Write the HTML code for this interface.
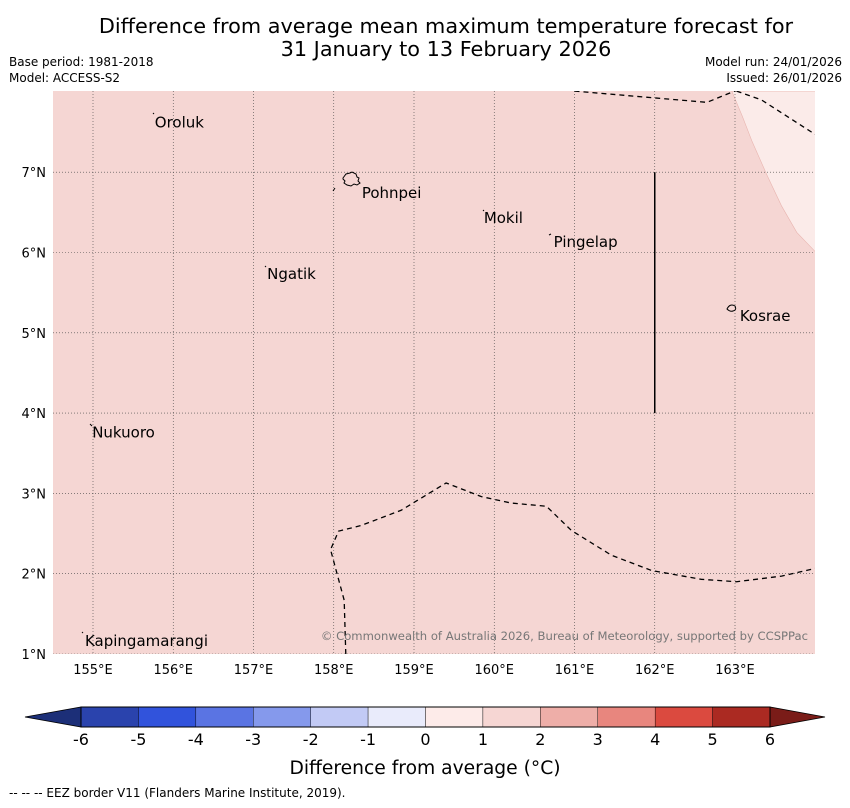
<!DOCTYPE html>
<html><head><meta charset="utf-8"><style>
body{margin:0;background:#fff;font-family:"DejaVu Sans","Liberation Sans",sans-serif;}
svg text{font-family:"DejaVu Sans","Liberation Sans",sans-serif;}
</style></head><body>
<svg width="850" height="804" xmlns="http://www.w3.org/2000/svg" id="chart">
<text x="446" y="33" font-size="20.8" text-anchor="middle">Difference from average mean maximum temperature forecast for</text>
<text x="446" y="56" font-size="20.8" text-anchor="middle">31 January to 13 February 2026</text>
<text x="9" y="66" font-size="12">Base period: 1981-2018</text>
<text x="9" y="82" font-size="12">Model: ACCESS-S2</text>
<text x="842" y="66" font-size="12" text-anchor="end">Model run: 24/01/2026</text>
<text x="842" y="82" font-size="12" text-anchor="end">Issued: 26/01/2026</text>
<g id="map"></g>
<g id="cbar"></g>
<text x="425" y="774" font-size="18.7" text-anchor="middle">Difference from average (°C)</text>
<text x="9" y="797" font-size="12">--  --  -- EEZ border V11 (Flanders Marine Institute, 2019).</text>
</svg>
<script>
const lonTicks=[155,156,157,158,159,160,161,162,163];
const latTicks=[1,2,3,4,5,6,7];
const places=[["Oroluk",155.77,7.62],["Pohnpei",158.35,6.74],["Mokil",159.87,6.43],["Pingelap",160.74,6.13],["Ngatik",157.17,5.73],["Kosrae",163.06,5.21],["Nukuoro",154.99,3.76],["Kapingamarangi",154.9,1.16]];
const eezTop=[[161,8.01],[162.65,7.87],[163.02,8.02]];
const eezRight=[[163.02,8.01],[163.33,7.9],[164,7.47]];
const eezBottom=[[158.15,1],[158.13,1.67],[157.96,2.3],[158.06,2.53],[158.34,2.6],[158.84,2.79],[159.4,3.13],[159.84,2.96],[160.21,2.88],[160.65,2.84],[160.96,2.54],[161.46,2.23],[161.96,2.04],[162.58,1.93],[163.02,1.9],[163.58,1.97],[164.02,2.07]];
const lightRegion=[[162.96,8.01],[163.09,7.7],[163.21,7.39],[163.4,6.96],[163.58,6.58],[163.77,6.25],[164.02,5.99],[164.02,8.01]];
const cbLevels=[-6,-5,-4,-3,-2,-1,0,1,2,3,4,5,6];
const cbColors=["#2a43ad","#3153dc","#5a74e3","#8599ec","#c2caf5","#e9ebfb","#fdebe9","#f6d6d3","#eeaea8","#e8867e","#db4a3f","#ab2a22"];
const ns="http://www.w3.org/2000/svg";
const X0=53,X1=815,Y0=91,Y1=654;
const xs=l=>93+(l-155)*80.25, ys=a=>654-(a-1)*80.3;
function el(t,a,p){const e=document.createElementNS(ns,t);for(const k in a)e.setAttribute(k,a[k]);p.appendChild(e);return e;}
const map=document.getElementById('map');
const cp=el('clipPath',{id:'clip'},map);el('rect',{x:X0,y:Y0,width:X1-X0,height:Y1-Y0},cp);
const bg=el('rect',{x:X0,y:Y0,width:X1-X0,height:Y1-Y0,fill:'#f5d6d3'},map);


const g=el('g',{'clip-path':'url(#clip)'},map);
const lr=el('polygon',{points:lightRegion.map(p=>xs(p[0])+','+ys(p[1])).join(' '),fill:'#fbebe9',stroke:'#e8b5b0','stroke-width':0.6},g);


lonTicks.forEach(l=>{const x=xs(l);
 const gl=el('line',{x1:x,x2:x,y1:Y0,y2:Y1,stroke:'#444','stroke-width':0.6,'stroke-dasharray':'1,2'},g);
 
 
 const t=el('text',{x:x,y:674,'font-size':13,'text-anchor':'middle'},map);t.textContent=l+'°E';
 
 });
latTicks.forEach(a=>{const y=ys(a);
 const gl=el('line',{x1:X0,x2:X1,y1:y,y2:y,stroke:'#444','stroke-width':0.6,'stroke-dasharray':'1,2'},g);
 
 
 const t=el('text',{x:46,y:y+5,'font-size':13,'text-anchor':'end'},map);t.textContent=a+'°N';
 
 });
[eezTop,eezRight,eezBottom].forEach(pts=>{const p=el('polyline',{points:pts.map(p=>xs(p[0])+','+ys(p[1])).join(' '),fill:'none',stroke:'#000','stroke-width':1.3,'stroke-dasharray':'5,4'},g);
 
 });
const vl=el('line',{x1:xs(162),x2:xs(162),y1:ys(7),y2:ys(4),stroke:'#000','stroke-width':1.5},g);


const isl=el('path',{d:'M343,178 l3,-4 l4,-1 l2,-1 l4,2 l1,3 l2,1 l-1,3 l2,2 l-3,2 l-3,-1 l-3,2 l-4,-1 l-3,-2 l1,-2 l-2,-2z M333,191 l2,-3 M727,309 q3,-6 8,-3 q2,4 -2,5 q-3,1 -6,-2z M153,113 l1,1 M483,210 l1,1 M549,235 l2,-1 M265,266 l1,1 M90,424 l2,2 M82,632 l1,1',fill:'none',stroke:'#000','stroke-width':1},g);


places.forEach(p=>{const t=el('text',{x:xs(p[1]),y:ys(p[2])+5,'font-size':15},g);t.textContent=p[0];
 
 });
const cr=el('text',{x:808,y:640,'font-size':11.6,'text-anchor':'end',fill:'#777'},g);cr.textContent='© Commonwealth of Australia 2026, Bureau of Meteorology, supported by CCSPPac';


const cb=document.getElementById('cbar');
const cx0=81,cx1=770,cy0=707,cy1=727,w=(cx1-cx0)/(cbLevels.length-1);
const cx=v=>cx0+(v-cbLevels[0])*w;
const lt=el('polygon',{points:`25,717 ${cx0},${cy0} ${cx0},${cy1}`,fill:'#1c2f78',stroke:'#000','stroke-width':0.8},cb);


const rt=el('polygon',{points:`825,717 ${cx1},${cy0} ${cx1},${cy1}`,fill:'#7a1c18',stroke:'#000','stroke-width':0.8},cb);


cbColors.forEach((c,i)=>{const r=el('rect',{x:cx(cbLevels[i]),y:cy0,width:cx(cbLevels[i+1])-cx(cbLevels[i]),height:cy1-cy0,fill:c,stroke:'#000','stroke-width':0.4},cb);
 
 });
el('rect',{x:cx0,y:cy0,width:cx1-cx0,height:cy1-cy0,fill:'none',stroke:'#000','stroke-width':1},cb);
cbLevels.forEach(v=>{const t=el('text',{x:cx(v),y:745,'font-size':16,'text-anchor':'middle'},cb);t.textContent=v;
 
 });
</script>
</body></html>
